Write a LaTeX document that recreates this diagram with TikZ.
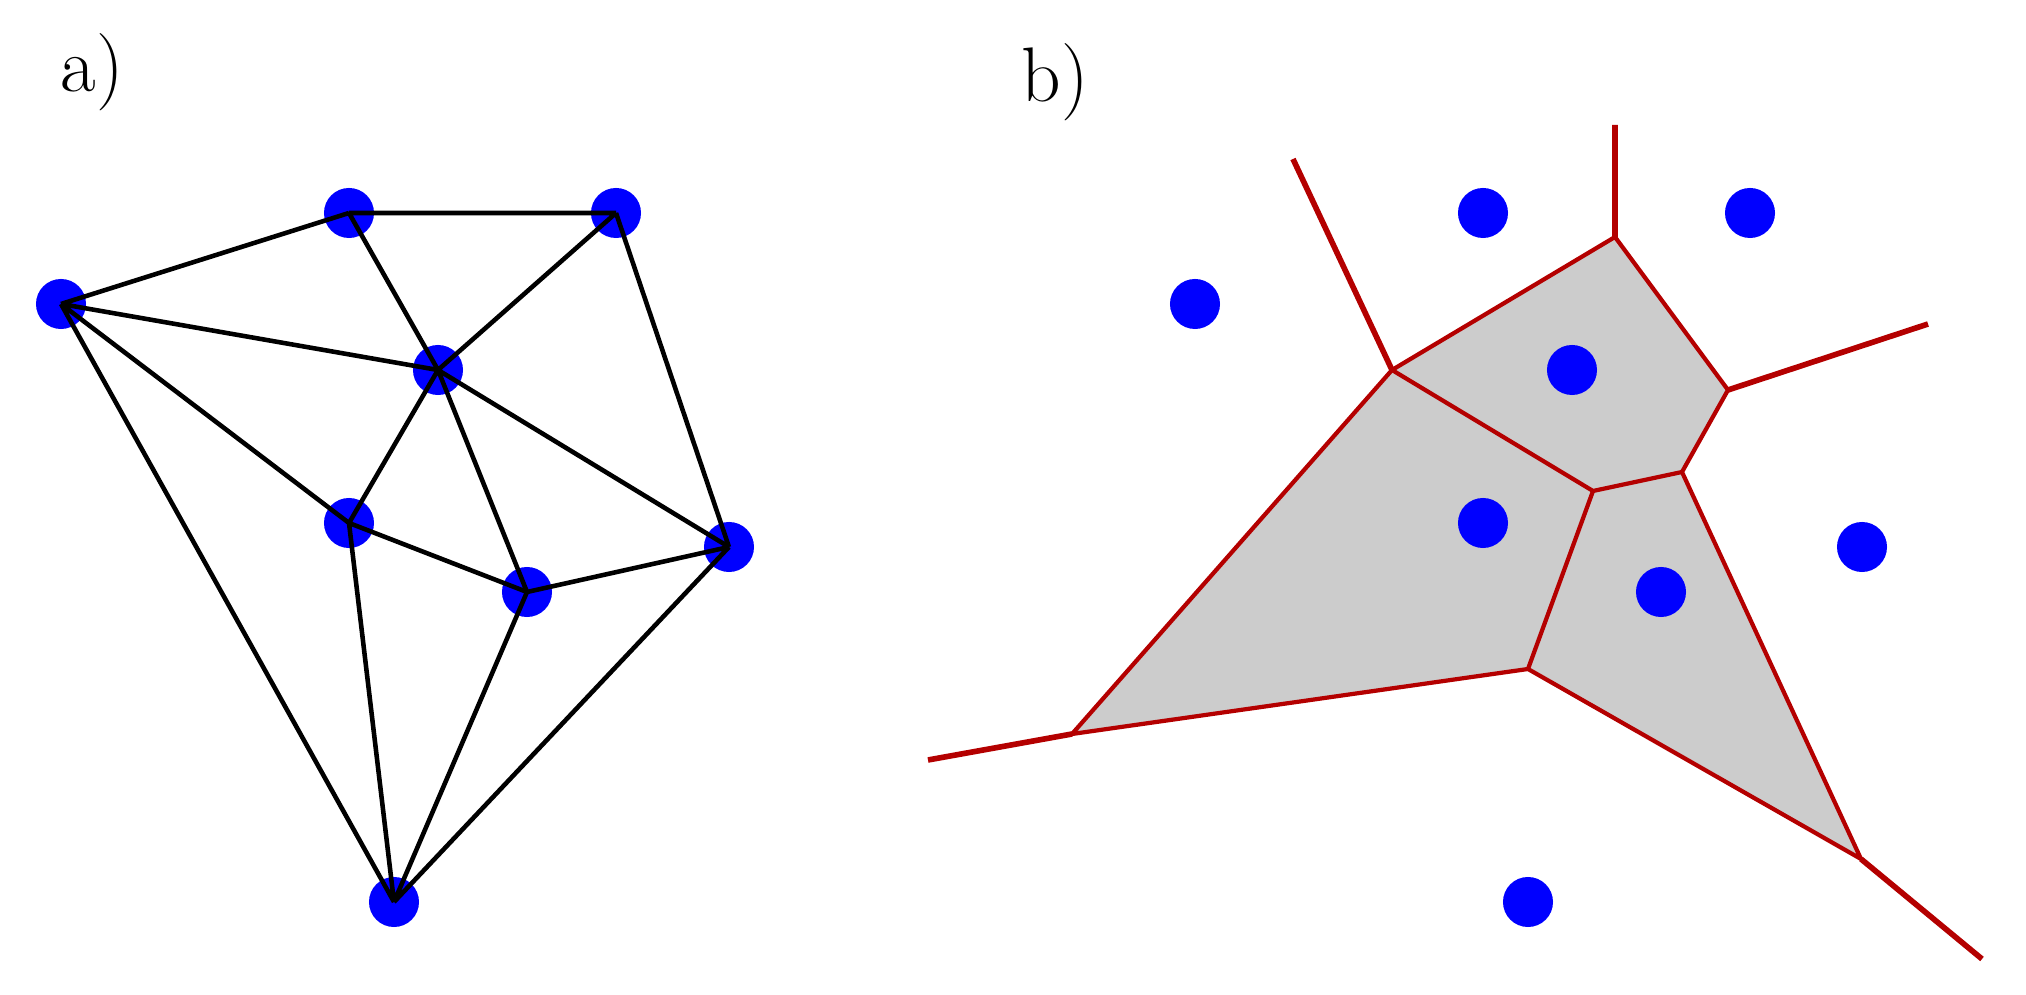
\documentclass[tikz,border=0pt]{standalone}
\begin{document}
\begin{tikzpicture}[x=0.01cm,y=-0.01cm,
  dot/.style={circle,fill=blue,inner sep=0pt,minimum size=0.5cm},
  tri/.style={black,line width=1.3pt},
  vor/.style={draw=vred,line width=1.2pt,line join=round},
  ray/.style={vred,line width=1.6pt},
  lbl/.style={font=\fontsize{22}{26}\selectfont,inner sep=0pt}]
\definecolor{vred}{RGB}{180,0,0}
\definecolor{cellgray}{RGB}{204,204,204}
\useasboundingbox (0,0) rectangle (2026,995);
% labels
\node[lbl] (la) at (92,72) {a)};
\node[lbl] (lb) at (1055,82) {b)};
% panel a points
\node[dot] (A) at (61,304) {};
\node[dot] (B) at (349,213) {};
\node[dot] (C) at (616,213) {};
\node[dot] (D) at (438,370) {};
\node[dot] (E) at (349,523) {};
\node[dot] (F) at (527,592) {};
\node[dot] (G) at (729,547) {};
\node[dot] (H) at (394,902) {};
\draw[tri] (A.center)--(B.center) (B.center)--(C.center) (A.center)--(D.center)
  (B.center)--(D.center) (C.center)--(D.center) (C.center)--(G.center)
  (A.center)--(E.center) (D.center)--(E.center) (D.center)--(F.center)
  (D.center)--(G.center) (E.center)--(F.center) (F.center)--(G.center)
  (A.center)--(H.center) (E.center)--(H.center) (F.center)--(H.center)
  (G.center)--(H.center);
% panel b voronoi
\coordinate (V1) at (1392,370);
\coordinate (V2) at (1615,237);
\coordinate (V3) at (1728,390);
\coordinate (V4) at (1682,472);
\coordinate (V5) at (1593,491);
\coordinate (V6) at (1528,669);
\coordinate (V7) at (1072,734);
\coordinate (V8) at (1861,859);
\coordinate (R1) at (1293,159);
\coordinate (R2) at (1615,125);
\coordinate (R3) at (1928,324);
\coordinate (R7) at (928,760);
\coordinate (R8) at (1982,959);
\fill[cellgray] (V7)--(V1)--(V2)--(V3)--(V4)--(V8)--(V6)--cycle;
\draw[ray] (V1)--(R1) (V2)--(R2) (V3)--(R3) (V7)--(R7) (V8)--(R8);
\draw[vor] (V7)--(V1)--(V2)--(V3)--(V4)--(V8)--(V6)--cycle;
\draw[vor] (V1)--(V5)--(V4) (V5)--(V6);
% panel b points
\node[dot] (bA) at (1195,304) {};
\node[dot] (bB) at (1483,213) {};
\node[dot] (bC) at (1750,213) {};
\node[dot] (bD) at (1572,370) {};
\node[dot] (bE) at (1483,523) {};
\node[dot] (bF) at (1661,592) {};
\node[dot] (bG) at (1862,547) {};
\node[dot] (bH) at (1528,902) {};
\end{tikzpicture}
\end{document}
